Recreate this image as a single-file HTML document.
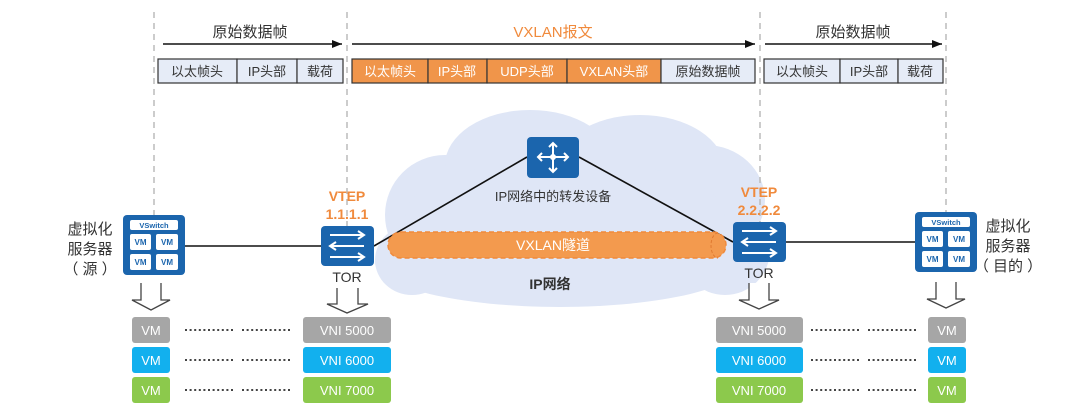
<!DOCTYPE html>
<html><head><meta charset="utf-8"><style>
html,body{margin:0;padding:0;background:#fff;}
svg{display:block;}
text{font-family:"Liberation Sans","Noto Sans CJK SC",sans-serif;}
</style></head><body>
<svg width="1080" height="417" viewBox="0 0 1080 417" xmlns="http://www.w3.org/2000/svg">
<defs>
<marker id="ah" markerWidth="10" markerHeight="8" refX="10" refY="4" orient="auto" markerUnits="userSpaceOnUse"><path d="M0,0 L10,4 L0,8 z" fill="#111"/></marker>
</defs>
<!-- cloud -->
<g fill="#dfe6f6">
<ellipse cx="445" cy="215" rx="60" ry="60"/>
<ellipse cx="530" cy="165" rx="85" ry="55"/>
<ellipse cx="640" cy="170" rx="85" ry="55"/>
<ellipse cx="705" cy="200" rx="60" ry="55"/>
<ellipse cx="725" cy="250" rx="45" ry="45"/>
<ellipse cx="560" cy="262" rx="185" ry="45"/>
<ellipse cx="412" cy="260" rx="37" ry="35"/>
<ellipse cx="565" cy="215" rx="160" ry="55"/>
</g>
<!-- dashed verticals -->
<g stroke="#bbb" stroke-width="1.5" stroke-dasharray="6,5">
<line x1="154" y1="12" x2="154" y2="215"/>
<line x1="347" y1="12" x2="347" y2="226"/>
<line x1="760" y1="12" x2="760" y2="222"/>
<line x1="946" y1="12" x2="946" y2="212"/>
</g>
<!-- top arrows -->
<g stroke="#111" stroke-width="1.5">
<line x1="163" y1="44" x2="342" y2="44" marker-end="url(#ah)"/>
<line x1="352" y1="44" x2="755" y2="44" marker-end="url(#ah)"/>
<line x1="765" y1="44" x2="942" y2="44" marker-end="url(#ah)"/>
</g>
<text x="250" y="37" font-size="15" fill="#333" text-anchor="middle">原始数据帧</text>
<text x="553" y="37" font-size="15" fill="#f08a3c" text-anchor="middle">VXLAN报文</text>
<text x="853" y="37" font-size="15" fill="#333" text-anchor="middle">原始数据帧</text>
<!-- frame boxes -->
<g stroke="#333" stroke-width="1.2" font-size="13">
<rect x="158" y="59" width="79" height="24" fill="#e6ecf7"/>
<rect x="237" y="59" width="60" height="24" fill="#e6ecf7"/>
<rect x="297" y="59" width="46" height="24" fill="#e6ecf7"/>
<rect x="352" y="59" width="76" height="24" fill="#f0954a"/>
<rect x="428" y="59" width="59" height="24" fill="#f0954a"/>
<rect x="487" y="59" width="80" height="24" fill="#f0954a"/>
<rect x="567" y="59" width="94" height="24" fill="#f0954a"/>
<rect x="661" y="59" width="94" height="24" fill="#e6ecf7"/>
<rect x="764" y="59" width="76" height="24" fill="#e6ecf7"/>
<rect x="840" y="59" width="58" height="24" fill="#e6ecf7"/>
<rect x="898" y="59" width="45" height="24" fill="#e6ecf7"/>
</g>
<g font-size="13" text-anchor="middle" fill="#333">
<text x="197" y="76">以太帧头</text><text x="267" y="76">IP头部</text><text x="320" y="76">载荷</text>
<text x="708" y="76">原始数据帧</text>
<text x="802" y="76">以太帧头</text><text x="869" y="76">IP头部</text><text x="920" y="76">载荷</text>
</g>
<g font-size="13" text-anchor="middle" fill="#fff">
<text x="390" y="76">以太帧头</text><text x="457" y="76">IP头部</text><text x="527" y="76">UDP头部</text><text x="614" y="76">VXLAN头部</text>
</g>
<!-- lines -->
<g stroke="#111" stroke-width="1.6">
<line x1="185" y1="246" x2="321" y2="246"/>
<line x1="374" y1="246" x2="527" y2="157"/>
<line x1="579" y1="157" x2="733" y2="242"/>
<line x1="786" y1="242" x2="915" y2="242"/>
</g>
<!-- tunnel -->
<rect x="388" y="232" width="338" height="26" rx="13" fill="#f39a4e" stroke="#f08a3c" stroke-width="1.5" stroke-dasharray="5,3"/>
<path d="M718,233 a7,12.5 0 0,0 0,25" fill="none" stroke="#e07a30" stroke-dasharray="3,2"/>
<text x="553" y="250" font-size="14" fill="#fff" text-anchor="middle">VXLAN隧道</text>
<text x="553" y="201" font-size="13" fill="#333" text-anchor="middle">IP网络中的转发设备</text>
<text x="550" y="289" font-size="14" fill="#333" text-anchor="middle" font-weight="bold">IP网络</text>
<!-- router -->
<rect x="527" y="137" width="52" height="41" rx="4" fill="#1b65ad"/>
<g stroke="#fff" stroke-width="2" fill="none">
<line x1="553" y1="143" x2="553" y2="172"/><line x1="538" y1="157" x2="568" y2="157"/>
<path d="M549,147 l4,-4 l4,4 M549,168 l4,4 l4,-4 M542,153 l-4,4 l4,4 M564,153 l4,4 l-4,4"/>
</g>
<circle cx="553" cy="157" r="3" fill="#fff"/>
<!-- TORs -->
<g id="tor">
<rect x="321" y="226" width="53" height="40" rx="4" fill="#1b65ad"/>
<g stroke="#fff" stroke-width="2" fill="none">
<line x1="330" y1="235" x2="364" y2="235"/><path d="M358,231 l6,4 l-6,4"/>
<line x1="330" y1="246" x2="364" y2="246"/><path d="M336,242 l-6,4 l6,4"/>
<line x1="330" y1="257" x2="364" y2="257"/><path d="M358,253 l6,4 l-6,4"/>
</g>
</g>
<use href="#tor" x="412" y="-4"/>
<g font-size="14" font-weight="bold" fill="#f08a3c" text-anchor="middle">
<text x="347" y="201">VTEP</text><text x="347" y="219">1.1.1.1</text>
<text x="759" y="197">VTEP</text><text x="759" y="215">2.2.2.2</text>
</g>
<g font-size="14" fill="#333" text-anchor="middle">
<text x="347" y="282">TOR</text><text x="759" y="278">TOR</text>
</g>
<!-- servers -->
<g id="srv">
<rect x="123" y="215" width="62" height="60" rx="4" fill="#1b65ad"/>
<rect x="130" y="220" width="48" height="10" rx="2" fill="#fff"/>
<text x="154" y="228" font-size="7.5" font-weight="bold" fill="#1b65ad" text-anchor="middle">VSwitch</text>
<rect x="130" y="234" width="21" height="16" rx="2" fill="#fff"/><rect x="156" y="234" width="22" height="16" rx="2" fill="#fff"/>
<rect x="130" y="254" width="21" height="16" rx="2" fill="#fff"/><rect x="156" y="254" width="22" height="16" rx="2" fill="#fff"/>
<g font-size="8" font-weight="bold" fill="#1b65ad" text-anchor="middle">
<text x="140.5" y="245">VM</text><text x="167" y="245">VM</text><text x="140.5" y="265">VM</text><text x="167" y="265">VM</text>
</g>
</g>
<use href="#srv" x="792" y="-3"/>
<g font-size="15" fill="#333" text-anchor="middle">
<text x="90" y="234">虚拟化</text><text x="90" y="254">服务器</text><text x="90" y="274">（ 源 ）</text>
<text x="1008" y="231">虚拟化</text><text x="1008" y="251">服务器</text><text x="1008" y="271">（ 目的 ）</text>
</g>
<!-- down arrows -->
<g fill="#fff" stroke="#444" stroke-width="1.3">
<path d="M141,283 V300 H132 L151,310 L170,300 H161 V283"/>
<path d="M337,288 V304 H327 L347,313 L368,304 H358 V288"/>
<path d="M749,283 V300 H739 L759,309 L779,300 H769 V283"/>
<path d="M936,282 V299 H927 L946,308 L965,299 H956 V282"/>
</g>
<!-- VM / VNI rows -->
<g font-size="13" fill="#fff" text-anchor="middle">
<rect x="132" y="317" width="38" height="26" rx="3" fill="#a6a6a6"/><text x="151" y="335">VM</text>
<rect x="132" y="347" width="38" height="26" rx="3" fill="#12b0ee"/><text x="151" y="365">VM</text>
<rect x="132" y="377" width="38" height="26" rx="3" fill="#8cc94c"/><text x="151" y="395">VM</text>
<rect x="303" y="317" width="88" height="26" rx="3" fill="#a6a6a6"/><text x="347" y="335">VNI 5000</text>
<rect x="303" y="347" width="88" height="26" rx="3" fill="#12b0ee"/><text x="347" y="365">VNI 6000</text>
<rect x="303" y="377" width="88" height="26" rx="3" fill="#8cc94c"/><text x="347" y="395">VNI 7000</text>
<rect x="716" y="317" width="87" height="26" rx="3" fill="#a6a6a6"/><text x="759" y="335">VNI 5000</text>
<rect x="716" y="347" width="87" height="26" rx="3" fill="#12b0ee"/><text x="759" y="365">VNI 6000</text>
<rect x="716" y="377" width="87" height="26" rx="3" fill="#8cc94c"/><text x="759" y="395">VNI 7000</text>
<rect x="928" y="317" width="38" height="26" rx="3" fill="#a6a6a6"/><text x="947" y="335">VM</text>
<rect x="928" y="347" width="38" height="26" rx="3" fill="#12b0ee"/><text x="947" y="365">VM</text>
<rect x="928" y="377" width="38" height="26" rx="3" fill="#8cc94c"/><text x="947" y="395">VM</text>
</g>
<g stroke="#444" stroke-width="2" stroke-dasharray="2,2.6">
<line x1="185" y1="330" x2="234" y2="330"/><line x1="242" y1="330" x2="291" y2="330"/>
<line x1="185" y1="360" x2="234" y2="360"/><line x1="242" y1="360" x2="291" y2="360"/>
<line x1="185" y1="390" x2="234" y2="390"/><line x1="242" y1="390" x2="291" y2="390"/>
<line x1="811" y1="330" x2="860" y2="330"/><line x1="868" y1="330" x2="917" y2="330"/>
<line x1="811" y1="360" x2="860" y2="360"/><line x1="868" y1="360" x2="917" y2="360"/>
<line x1="811" y1="390" x2="860" y2="390"/><line x1="868" y1="390" x2="917" y2="390"/>
</g>
</svg>
</body></html>
